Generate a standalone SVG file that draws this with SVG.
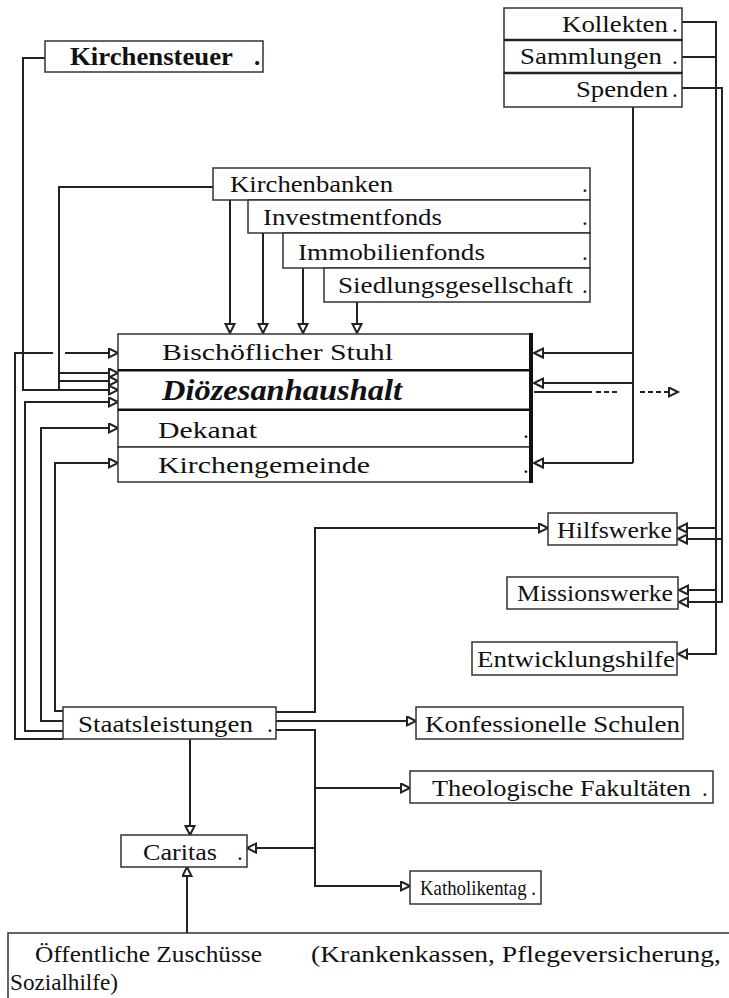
<svg xmlns="http://www.w3.org/2000/svg" width="729" height="998" viewBox="0 0 729 998">
<style>
.box{fill:#fff;stroke:#333;stroke-width:1.5}
.t{font-family:"Liberation Serif","Times New Roman",serif;font-size:23px;fill:#111}
.b{font-weight:bold;font-size:25px}
.bi{font-weight:bold;font-style:italic;font-size:29px}
.s{font-size:21px}
.c{fill:none;stroke:#222;stroke-width:2}
.d{fill:none;stroke:#222;stroke-width:2;stroke-dasharray:5 3}
</style>
<defs>
<marker id="a" markerUnits="userSpaceOnUse" markerWidth="13" markerHeight="13" refX="10" refY="5.5" orient="auto">
<path d="M1,1 L10,5.5 L1,10 z" fill="#fff" stroke="#222" stroke-width="2"/>
</marker>
</defs>
<rect width="729" height="998" fill="#fff"/>

<g id="connectors">
<path class="c" d="M45,58 H23 V390 H118" marker-end="url(#a)"/>
<path class="c" d="M213,187 H59 V390"/>
<path class="c" d="M59,373 H118" marker-end="url(#a)"/>
<path class="c" d="M59,381 H118" marker-end="url(#a)"/>
<path class="c" d="M230,200 V333" marker-end="url(#a)"/>
<path class="c" d="M263,233 V333" marker-end="url(#a)"/>
<path class="c" d="M303,268 V333" marker-end="url(#a)"/>
<path class="c" d="M357,302 V333" marker-end="url(#a)"/>
<path class="c" d="M633,107 V463"/>
<path class="c" d="M633,353 H534" marker-end="url(#a)"/>
<path class="c" d="M633,383 H534" marker-end="url(#a)"/>
<path class="c" d="M633,463 H534" marker-end="url(#a)"/>
<path class="c" d="M534,392 H592"/>
<path class="d" d="M596,392 H620"/>
<path class="d" d="M640,392 H678" marker-end="url(#a)"/>
<path class="c" d="M682,22 H716 V654 H678" marker-end="url(#a)"/>
<path class="c" d="M682,57 H716"/>
<path class="c" d="M716,528 H678" marker-end="url(#a)"/>
<path class="c" d="M716,590 H679" marker-end="url(#a)"/>
<path class="c" d="M682,88 H722 V602 H679" marker-end="url(#a)"/>
<path class="c" d="M722,539 H678" marker-end="url(#a)"/>
<path class="c" d="M63,739 H15 V353 H53"/>
<path class="c" d="M65,353 H118" marker-end="url(#a)"/>
<path class="c" d="M63,731 H25 V402 H118" marker-end="url(#a)"/>
<path class="c" d="M63,721 H41 V428 H118" marker-end="url(#a)"/>
<path class="c" d="M63,711 H55 V463 H118" marker-end="url(#a)"/>
<path class="c" d="M276,712 H315 V528 H548" marker-end="url(#a)"/>
<path class="c" d="M276,721 H416" marker-end="url(#a)"/>
<path class="c" d="M276,730 H315 V886 H410" marker-end="url(#a)"/>
<path class="c" d="M315,788 H410" marker-end="url(#a)"/>
<path class="c" d="M315,848 H247" marker-end="url(#a)"/>
<path class="c" d="M190,739 V835" marker-end="url(#a)"/>
<path class="c" d="M187,933 V867" marker-end="url(#a)"/>
</g>

<g id="kirchensteuer">
<rect class="box" x="45" y="41" width="218" height="31"/>
<text class="t b" x="70" y="65" textLength="163" lengthAdjust="spacingAndGlyphs">Kirchensteuer</text>
<text class="t b" x="254" y="65">.</text>
</g>

<g id="kollekten">
<rect class="box" x="504" y="8" width="178" height="32"/>
<text class="t" x="562" y="32" textLength="106" lengthAdjust="spacingAndGlyphs">Kollekten</text>
<text class="t" x="672" y="32">.</text>
</g>
<g id="sammlungen">
<rect class="box" x="504" y="40" width="178" height="33"/>
<text class="t" x="520" y="64" textLength="142" lengthAdjust="spacingAndGlyphs">Sammlungen</text>
<text class="t" x="672" y="64">.</text>
</g>
<g id="spenden">
<rect class="box" x="504" y="73" width="178" height="34"/>
<text class="t" x="576" y="97" textLength="92" lengthAdjust="spacingAndGlyphs">Spenden</text>
<text class="t" x="672" y="97">.</text>
</g>
<line x1="504" y1="40" x2="682" y2="40" stroke="#222" stroke-width="2.5"/>
<line x1="504" y1="73" x2="682" y2="73" stroke="#222" stroke-width="2.5"/>

<g id="kirchenbanken">
<rect class="box" x="213" y="168" width="377" height="32"/>
<text class="t" x="230" y="192" textLength="163" lengthAdjust="spacingAndGlyphs">Kirchenbanken</text>
<text class="t" x="582" y="192">.</text>
</g>
<g id="investmentfonds">
<rect class="box" x="248" y="200" width="342" height="33"/>
<text class="t" x="263" y="225" textLength="179" lengthAdjust="spacingAndGlyphs">Investmentfonds</text>
<text class="t" x="582" y="225">.</text>
</g>
<g id="immobilienfonds">
<rect class="box" x="283" y="233" width="307" height="35"/>
<text class="t" x="298" y="260" textLength="187" lengthAdjust="spacingAndGlyphs">Immobilienfonds</text>
<text class="t" x="582" y="260">.</text>
</g>
<g id="siedlungsgesellschaft">
<rect class="box" x="324" y="268" width="266" height="34"/>
<text class="t" x="338" y="293" textLength="235" lengthAdjust="spacingAndGlyphs">Siedlungsgesellschaft</text>
<text class="t" x="582" y="293">.</text>
</g>

<g id="bischoeflicher-stuhl">
<rect class="box" x="118" y="334" width="412" height="36"/>
<text class="t" x="162" y="360" textLength="231" lengthAdjust="spacingAndGlyphs">Bischöflicher Stuhl</text>
</g>
<g id="dioezesanhaushalt">
<rect class="box" x="118" y="370" width="412" height="40" stroke-width="2.5"/>
<text class="t bi" x="162" y="400" textLength="240" lengthAdjust="spacingAndGlyphs">Diözesanhaushalt</text>
</g>
<g id="dekanat">
<rect class="box" x="118" y="410" width="412" height="37"/>
<text class="t" x="158" y="438" textLength="99" lengthAdjust="spacingAndGlyphs">Dekanat</text>
<text class="t" x="523" y="438">.</text>
</g>
<g id="kirchengemeinde">
<rect class="box" x="118" y="447" width="412" height="35"/>
<text class="t" x="158" y="473" textLength="212" lengthAdjust="spacingAndGlyphs">Kirchengemeinde</text>
<text class="t" x="523" y="473">.</text>
</g>
<rect x="529" y="333" width="4" height="150" fill="#111"/>
<rect x="118" y="369" width="412" height="2.5" fill="#111"/>
<rect x="118" y="408.5" width="412" height="2.5" fill="#111"/>

<g id="hilfswerke">
<rect class="box" x="548" y="513" width="129" height="32"/>
<text class="t" x="557" y="538" textLength="115" lengthAdjust="spacingAndGlyphs">Hilfswerke</text>
</g>
<g id="missionswerke">
<rect class="box" x="507" y="577" width="171" height="32"/>
<text class="t" x="517" y="601" textLength="156" lengthAdjust="spacingAndGlyphs">Missionswerke</text>
</g>
<g id="entwicklungshilfe">
<rect class="box" x="472" y="642" width="205" height="33"/>
<text class="t" x="477" y="667" textLength="198" lengthAdjust="spacingAndGlyphs">Entwicklungshilfe</text>
</g>

<g id="staatsleistungen">
<rect class="box" x="63" y="707" width="213" height="32"/>
<text class="t" x="78" y="732" textLength="175" lengthAdjust="spacingAndGlyphs">Staatsleistungen</text>
<text class="t" x="267" y="732">.</text>
</g>
<g id="konfessionelle-schulen">
<rect class="box" x="416" y="707" width="267" height="32"/>
<text class="t" x="425" y="732" textLength="255" lengthAdjust="spacingAndGlyphs">Konfessionelle Schulen</text>
</g>
<g id="theologische-fakultaeten">
<rect class="box" x="410" y="771" width="303" height="32"/>
<text class="t" x="432" y="796" textLength="259" lengthAdjust="spacingAndGlyphs">Theologische Fakultäten</text>
<text class="t" x="702" y="796">.</text>
</g>
<g id="caritas">
<rect class="box" x="121" y="835" width="126" height="32"/>
<text class="t" x="143" y="860" textLength="74" lengthAdjust="spacingAndGlyphs">Caritas</text>
<text class="t" x="237" y="860">.</text>
</g>
<g id="katholikentag">
<rect class="box" x="410" y="871" width="131" height="33"/>
<text class="t s" x="420" y="895" textLength="116" lengthAdjust="spacingAndGlyphs">Katholikentag .</text>
</g>

<g id="oeffentliche-zuschuesse">
<rect class="box" x="8" y="933" width="730" height="80"/>
<text class="t" x="35" y="962" textLength="227" lengthAdjust="spacingAndGlyphs">Öffentliche Zuschüsse</text>
<text class="t" x="311" y="962" textLength="410" lengthAdjust="spacingAndGlyphs">(Krankenkassen, Pflegeversicherung,</text>
<text class="t" x="10" y="990" textLength="108" lengthAdjust="spacingAndGlyphs">Sozialhilfe)</text>
</g>
</svg>
